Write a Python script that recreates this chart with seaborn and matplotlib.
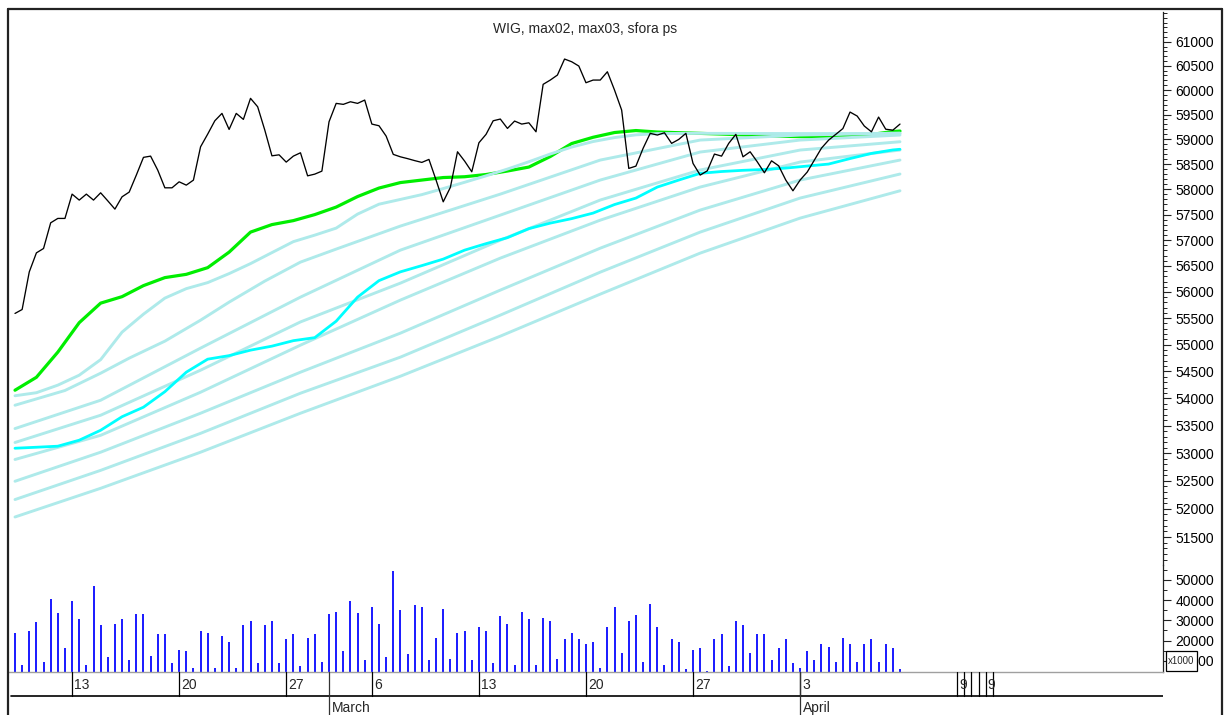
import matplotlib
matplotlib.use("Agg")
import pandas as pd
import seaborn as sns
import matplotlib.pyplot as plt
from matplotlib.lines import Line2D
from matplotlib.patches import Rectangle
from matplotlib.ticker import FixedLocator, FixedFormatter, NullFormatter

title = "WIG, max02, max03, sfora ps"

# WIG close, one value per bar (index 0..124)
close = [55590, 55665, 56385, 56753, 56838, 57339, 57425, 57425, 57904, 57786,
         57904, 57786, 57930, 57771, 57608, 57851, 57944, 58282, 58636, 58661,
         58381, 58029, 58029, 58148, 58082, 58182, 58848, 59104, 59374, 59524,
         59199, 59524, 59402, 59831, 59659, 59185, 58667, 58687, 58541, 58661,
         58728, 58267, 58301, 58361, 59354, 59728, 59708, 59761, 59728, 59796,
         59307, 59273, 59064, 58696, 58647, 58611, 58571, 58535, 58595, 58182,
         57752, 58037, 58748, 58561, 58348, 58929, 59099, 59374, 59409, 59219,
         59368, 59307, 59333, 59151, 60118, 60206, 60309, 60640, 60584, 60495,
         60151, 60206, 60206, 60377, 60001, 59592, 58415, 58461, 58816, 59119,
         59085, 59131, 58917, 58997, 59119, 58515, 58282, 58367, 58702, 58661,
         58917, 59099, 58647, 58748, 58547, 58328, 58567, 58467, 58182, 57970,
         58182, 58342, 58581, 58822, 58983, 59099, 59216, 59551, 59470, 59267,
         59150, 59449, 59203, 59184, 59307]

# volume (x1000)
volume = [23900, 7900, 24700, 29150, 9500, 40400, 33700, 16300, 39500, 30500,
          7900, 47100, 27700, 11800, 28300, 30500, 10400, 33000, 33000, 12300,
          23200, 23200, 8900, 15500, 14800, 6400, 24600, 23900, 6600, 22200,
          19300, 6400, 27500, 29800, 8700, 27500, 29800, 8700, 20700, 23100,
          7300, 21400, 23100, 9400, 33000, 34200, 14800, 39500, 33600, 10400,
          36600, 28300, 11800, 54500, 35100, 13200, 37400, 36600, 10400, 21400,
          35700, 11000, 23900, 24600, 10400, 26800, 24600, 8900, 32100, 28300,
          8000, 34200, 30500, 8000, 31300, 29800, 11000, 20700, 23900, 20700,
          18400, 19300, 6400, 26800, 36600, 14000, 29800, 32800, 9500, 38000,
          26800, 8000, 20700, 19300, 5800, 15500, 16300, 5100, 20700, 23100,
          7300, 29800, 27500, 14000, 23100, 23100, 10400, 16300, 20700, 8700,
          6400, 14800, 10400, 18400, 16900, 9500, 21400, 18400, 9500, 18400,
          20700, 9500, 18400, 16300, 5800]

# max02 (green) and max03 (cyan), read every 3rd bar
ma_idx = list(range(0, 124, 3)) + [124]
max02 = [54150, 54390, 54860, 55415, 55786, 55910, 56121, 56275, 56338, 56467,
         56767, 57157, 57304, 57382, 57500, 57648, 57856, 58024, 58133, 58183,
         58233, 58249, 58293, 58363, 58442, 58653, 58914, 59040, 59136, 59176,
         59146, 59132, 59119, 59105, 59089, 59073, 59059, 59051, 59034, 59061,
         59097, 59156, 59166]
max03 = [53087, 53105, 53124, 53233, 53414, 53662, 53837, 54123, 54485, 54728,
         54794, 54897, 54972, 55075, 55132, 55443, 55901, 56217, 56386, 56506,
         56632, 56806, 56932, 57049, 57225, 57333, 57421, 57530, 57698, 57826,
         58044, 58183, 58317, 58353, 58377, 58394, 58422, 58462, 58502, 58612,
         58715, 58785, 58798]

# sfora: ribbon of slower averages
sfora_1_idx = list(range(0, 91, 3)) + [96, 110, 124]
sfora_1 = [54048, 54104, 54244, 54429, 54719, 55236, 55576, 55882, 56063, 56179,
           56352, 56545, 56758, 56971, 57098, 57235, 57510, 57705, 57799, 57894,
           58014, 58139, 58267, 58402, 58548, 58703, 58843, 58954, 59034, 59089,
           59115, 59119, 59115, 59115]
sfora_2_idx = [0, 7, 12, 16, 21, 26, 30, 35, 40, 45, 54, 68, 82, 96, 110, 124]
sfora_2 = [53873, 54145, 54466, 54747, 55066, 55462, 55805, 56208, 56574, 56826,
           57275, 57904, 58582, 58984, 59085, 59125]
sfora_idx = [0, 12, 26, 40, 54, 68, 82, 96, 110, 124]
sfora_3 = [53445, 53965, 54935, 55901, 56806, 57490, 58183, 58743, 58984, 59085]
sfora_4 = [53191, 53689, 54522, 55429, 56169, 57000, 57787, 58383, 58783, 58950]
sfora_5 = [52883, 53322, 54113, 54991, 55844, 56651, 57391, 58044, 58542, 58783]
sfora_6 = [52491, 53015, 53726, 54485, 55217, 56035, 56844, 57589, 58183, 58582]
sfora_7 = [52164, 52687, 53358, 54095, 54766, 55558, 56380, 57157, 57826, 58303]
sfora_8 = [51854, 52365, 53015, 53726, 54410, 55160, 55958, 56748, 57431, 57970]

day_ticks = [8, 23, 38, 50, 65, 80, 95, 110]
day_labels = ["13", "20", "27", "6", "13", "20", "27", "3"]
month_ticks = [44, 110]
month_labels = ["March", "April"]
stub_ticks = [132, 133, 134, 135, 136, 137]
stub_label_ticks = [132, 136]
stub_labels = ["9", "9"]

price_ticks = list(range(51500, 61001, 500))
price_minor = list(range(51100, 61601, 100))
vol_ticks = [10000, 20000, 30000, 40000, 50000]
vol_minor = [15000, 25000, 35000, 45000, 55000]

sns.set_style("white")
plt.rcParams["font.family"] = ["Liberation Sans", "DejaVu Sans"]

W, H = 1224, 715
fig = plt.figure(figsize=(W / 100, H / 100), dpi=100)


def box(x0, y0, x1, y1):
    return [x0 / W, 1 - y1 / H, (x1 - x0) / W, (y1 - y0) / H]


XLIM = (-0.98, 160.85)
ax = fig.add_axes(box(8, 12, 1163, 565))
axv = fig.add_axes(box(8, 565, 1163, 672.3))
axd = fig.add_axes(box(8, 672.3, 1163, 715))

# price panel
bands = [pd.DataFrame({"i": sfora_1_idx, "v": sfora_1, "band": 0}),
         pd.DataFrame({"i": sfora_2_idx, "v": sfora_2, "band": 1})]
for k, s in enumerate([sfora_3, sfora_4, sfora_5, sfora_6, sfora_7, sfora_8]):
    bands.append(pd.DataFrame({"i": sfora_idx, "v": s, "band": k + 2}))
bands = pd.concat(bands)

sns.lineplot(x=ma_idx, y=max02, ax=ax, color="#00ee00", linewidth=2.3)
sns.lineplot(data=bands, x="i", y="v", hue="band", palette=["#aeeaea"] * 8,
             linewidth=2.1, legend=False, ax=ax)
sns.lineplot(x=ma_idx, y=max03, ax=ax, color="#00ffff", linewidth=2.0)
sns.lineplot(x=list(range(len(close))), y=close, ax=ax, color="black", linewidth=0.95)

ax.set_yscale("log")
ax.set_ylim(51010, 61623)
ax.set_xlim(*XLIM)
ax.yaxis.tick_right()
ax.yaxis.set_major_locator(FixedLocator(price_ticks))
ax.yaxis.set_major_formatter(FixedFormatter([str(t) for t in price_ticks]))
ax.yaxis.set_minor_locator(FixedLocator(price_minor))
ax.yaxis.set_minor_formatter(NullFormatter())
ax.set_xticks([])
ax.set_xlabel("")
ax.set_ylabel("")

# volume panel
sns.barplot(x=list(range(len(volume))), y=volume, ax=axv, native_scale=True,
            width=0.28, color="#1f1fff", saturation=1, linewidth=0, errorbar=None)
axv.set_ylim(4290, 57330)
axv.set_xlim(*XLIM)
axv.yaxis.tick_right()
axv.yaxis.set_major_locator(FixedLocator(vol_ticks))
axv.yaxis.set_major_formatter(FixedFormatter([str(t) for t in vol_ticks]))
axv.yaxis.set_minor_locator(FixedLocator(vol_minor))
axv.yaxis.set_minor_formatter(NullFormatter())
axv.set_xticks([])
axv.set_xlabel("")
axv.set_ylabel("")

for a in (ax, axv):
    for side in ("top", "left", "bottom"):
        a.spines[side].set_visible(False)
    a.spines["right"].set_color("#222222")
    a.spines["right"].set_linewidth(0.9)
    a.tick_params(axis="y", which="major", direction="out", length=5.8, width=0.8,
                  labelsize=10, pad=3, colors="#222222", labelcolor="black")
    a.tick_params(axis="y", which="minor", direction="out", length=2.9, width=0.7,
                  colors="#222222")
    a.patch.set_alpha(0)
axv.spines["bottom"].set_visible(True)
axv.spines["bottom"].set_color("#a0a0a0")
axv.spines["bottom"].set_linewidth(1.0)

# date band
axd.set_xlim(*XLIM)
axd.set_ylim(0, 1)
axd.axis("off")
mid = (715 - 695.7) / 42.7
axd.axhline(mid, xmin=3 / 1155, xmax=1, color="black", linewidth=1.2)
for t, lab in zip(day_ticks, day_labels):
    axd.plot([t, t], [mid, 1], color="black", linewidth=0.9)
    axd.text(t + 0.3, 0.71, lab, ha="left", va="center", fontsize=10)
for t, lab in zip(month_ticks, month_labels):
    axd.plot([t, t], [0, 1], color="#333333", linewidth=0.9)
    axd.text(t + 0.4, 0.16, lab, ha="left", va="center", fontsize=10)
for t in stub_ticks:
    axd.plot([t, t], [mid, 1], color="black", linewidth=0.9)
for t, lab in zip(stub_label_ticks, stub_labels):
    axd.text(t + 0.3, 0.71, lab, ha="left", va="center", fontsize=10)

# multiplier box over the 10000 label
fig.add_artist(Rectangle((1166 / W, 1 - 671 / H), 31 / W, 20 / H, transform=fig.transFigure,
                         facecolor="white", edgecolor="black", linewidth=0.9, zorder=10))
fig.text(1181.5 / W, 1 - 661 / H, "x1000", ha="center", va="center", fontsize=7, zorder=11)

# outer frame
frame = dict(transform=fig.transFigure, color="#222222", linewidth=1.6)
fig.add_artist(Line2D([8 / W, 8 / W], [0, 1 - 9 / H], **frame))
fig.add_artist(Line2D([8 / W, 1222 / W], [1 - 9 / H, 1 - 9 / H], **frame))
fig.add_artist(Line2D([1222 / W, 1222 / W], [0, 1 - 9 / H], **frame))

fig.text(585.5 / W, 1 - 29 / H, title, ha="center", va="center", fontsize=10)

fig.savefig("out.png", dpi=100)
